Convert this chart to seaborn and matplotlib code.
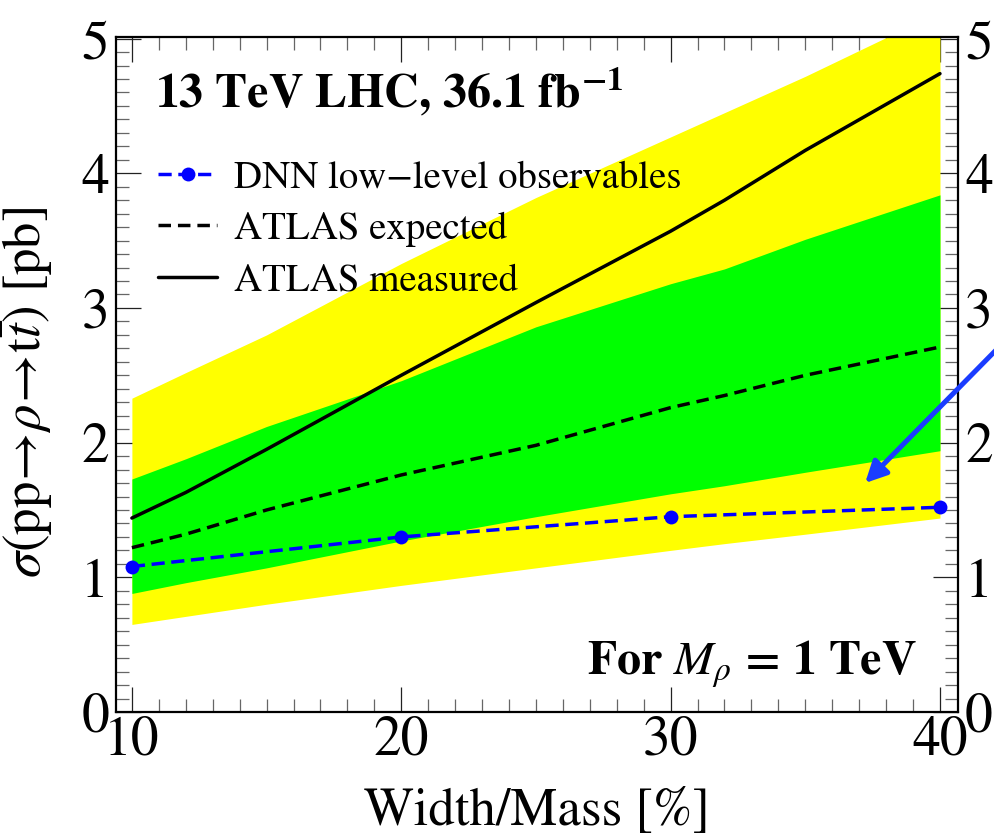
import matplotlib
matplotlib.use("Agg")
import matplotlib.pyplot as plt
import seaborn as sns
import numpy as np
import pandas as pd
from matplotlib.ticker import MultipleLocator

# ---- data ----
x_band = [10, 12, 15, 20, 25, 30, 32, 35, 40]
yellow_hi = [2.33, 2.52, 2.80, 3.33, 3.82, 4.27, 4.45, 4.72, 5.20]
green_hi = [1.73, 1.88, 2.12, 2.46, 2.86, 3.18, 3.29, 3.51, 3.84]
green_lo = [0.88, 0.96, 1.07, 1.27, 1.45, 1.62, 1.68, 1.78, 1.94]
yellow_lo = [0.65, 0.71, 0.80, 0.94, 1.07, 1.20, 1.25, 1.32, 1.44]
atlas_expected = [1.22, 1.32, 1.50, 1.76, 1.98, 2.26, 2.35, 2.50, 2.71]
atlas_measured = [1.44, 1.63, 1.95, 2.50, 3.04, 3.57, 3.80, 4.17, 4.74]

x_dnn = [10, 20, 30, 40]
dnn_values = [1.08, 1.30, 1.45, 1.52]

labels = ["DNN low\u2212level observables", "ATLAS expected", "ATLAS measured"]

sns.set_theme(style="ticks")
plt.rcParams["font.family"] = ["STIXGeneral", "DejaVu Serif"]
plt.rcParams["mathtext.fontset"] = "stix"
plt.rcParams["axes.unicode_minus"] = True
plt.rcParams["text.color"] = "black"
plt.rcParams["axes.labelcolor"] = "black"
plt.rcParams["xtick.labelcolor"] = "black"
plt.rcParams["ytick.labelcolor"] = "black"

fig = plt.figure(figsize=(9.94, 8.39), dpi=100)
ax = fig.add_axes([0.1167, 0.1514, 0.8471, 0.8045])

ax.fill_between(x_band, yellow_lo, yellow_hi, color="#ffff00", lw=0, zorder=1)
ax.fill_between(x_band, green_lo, green_hi, color="#00ff00", lw=0, zorder=2)

df_band = pd.DataFrame({"x": x_band, "exp": atlas_expected, "meas": atlas_measured})
df_dnn = pd.DataFrame({"x": x_dnn, "y": dnn_values})

sns.lineplot(data=df_band, x="x", y="meas", ax=ax, color="black", lw=2.5,
             label=labels[2], zorder=4)
sns.lineplot(data=df_band, x="x", y="exp", ax=ax, color="black", lw=2.5,
             label=labels[1], zorder=4)
ax.lines[-1].set_dashes((3.6, 2.0))
sns.lineplot(data=df_dnn, x="x", y="y", ax=ax, color="#0000ff", lw=2.5,
             marker="o", markersize=10, markeredgewidth=0,
             label=labels[0], zorder=5)
ax.lines[-1].set_dashes((3.8, 1.9))

ax.set_xlim(9.41, 40.67)
ax.set_ylim(0, 5.012)
ax.xaxis.set_major_locator(MultipleLocator(10))
ax.xaxis.set_minor_locator(MultipleLocator(1))
ax.yaxis.set_major_locator(MultipleLocator(1))
ax.yaxis.set_minor_locator(MultipleLocator(0.1))

ax.tick_params(which="both", direction="in", top=True, right=True,
               labelright=True, labelsize=40, pad=3, labelcolor="black")
ax.tick_params(which="major", length=18, width=0.9, color="#222222")
ax.tick_params(which="minor", length=9.5, width=0.9, color="#666666")
ax.tick_params(axis="y", which="major", pad=5)
for s in ax.spines.values():
    s.set_linewidth(1.6)
    s.set_color("black")
    s.set_zorder(6)

ax.set_xlabel("Width/Mass [%]", fontsize=38, labelpad=15)
ax.set_ylabel(r"$\sigma(\mathrm{pp}\!\rightarrow\!\rho\!\rightarrow\!\mathrm{t}\bar{t})$ [pb]",
              fontsize=38)
ax.yaxis.set_label_coords(-0.072, 0.474)

ax.text(0.046, 0.895, r"13 TeV LHC, 36.1 fb$^{\mathbf{-1}}$", transform=ax.transAxes,
        fontsize=34.5, fontweight="bold", ha="left", va="baseline", zorder=7)
ax.text(0.951, 0.055, r"For $\boldsymbol{M_\rho}$ = 1 TeV", transform=ax.transAxes,
        fontsize=34.5, fontweight="bold", ha="right", va="baseline", zorder=7)

ax.annotate("", xy=(37.22, 1.70), xytext=(45.0, 3.28),
            arrowprops=dict(arrowstyle="-|>", color="#1a3cff", lw=3.6,
                            mutation_scale=32, shrinkA=0, shrinkB=0),
            annotation_clip=False, zorder=8)

h, l = ax.get_legend_handles_labels()
order = [l.index(lab) for lab in labels]
leg = ax.legend([h[i] for i in order], [l[i] for i in order],
                loc="upper left", bbox_to_anchor=(0.032, 0.84), frameon=False,
                fontsize=28, handlelength=1.5, handletextpad=0.45,
                labelspacing=0.41, borderaxespad=0)

fig.savefig("out.png", dpi=100)
